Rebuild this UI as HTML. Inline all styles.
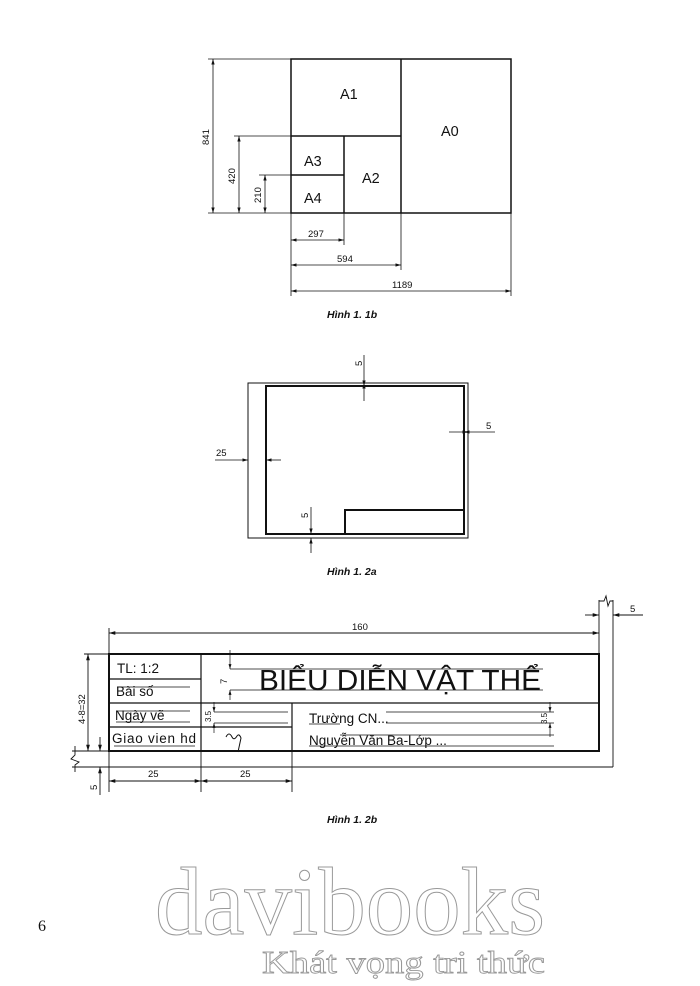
<!DOCTYPE html>
<html><head><meta charset="utf-8"><style>
html,body{margin:0;padding:0;background:#fff;}
svg{display:block;}
text{font-family:"Liberation Sans",sans-serif;fill:#111;}
</style></head><body>
<svg width="700" height="986" viewBox="0 0 700 986" xmlns="http://www.w3.org/2000/svg">
<defs>
<marker id="a" viewBox="0 0 10 10" refX="10" refY="5" markerWidth="7" markerHeight="7" orient="auto-start-reverse"><path d="M0,2 L10,5 L0,8z" fill="#111"/></marker>
</defs>
<g stroke="#111" fill="none">
<g stroke-width="1.5">
<rect x="291" y="59" width="220" height="154"/>
<line x1="401" y1="59" x2="401" y2="213"/>
<line x1="291" y1="136" x2="401" y2="136"/>
<line x1="344" y1="136" x2="344" y2="213"/>
<line x1="291" y1="175" x2="344" y2="175"/>
</g>
<g stroke-width="0.8">
<line x1="208" y1="59" x2="291" y2="59"/>
<line x1="208" y1="213" x2="291" y2="213"/>
<line x1="234" y1="136" x2="291" y2="136"/>
<line x1="259" y1="175" x2="291" y2="175"/>
<line x1="213" y1="59" x2="213" y2="213" marker-start="url(#a)" marker-end="url(#a)"/>
<line x1="239" y1="136" x2="239" y2="213" marker-start="url(#a)" marker-end="url(#a)"/>
<line x1="265" y1="175" x2="265" y2="213" marker-start="url(#a)" marker-end="url(#a)"/>
<line x1="291" y1="213" x2="291" y2="296"/>
<line x1="344" y1="213" x2="344" y2="245"/>
<line x1="401" y1="213" x2="401" y2="270"/>
<line x1="511" y1="213" x2="511" y2="296"/>
<line x1="291" y1="240" x2="344" y2="240" marker-start="url(#a)" marker-end="url(#a)"/>
<line x1="291" y1="265" x2="401" y2="265" marker-start="url(#a)" marker-end="url(#a)"/>
<line x1="291" y1="291" x2="511" y2="291" marker-start="url(#a)" marker-end="url(#a)"/>
</g>
<rect x="248" y="383" width="220" height="155" stroke-width="1"/>
<g stroke-width="2">
<rect x="266" y="386" width="198" height="148"/>
<polyline points="345,534 345,510 464,510"/>
</g>
<g stroke-width="0.8">
<line x1="364" y1="355" x2="364" y2="386" marker-end="url(#a)"/>
<line x1="364" y1="401" x2="364" y2="383" marker-end="url(#a)"/>
<line x1="449" y1="432" x2="468" y2="432" marker-end="url(#a)"/>
<line x1="495" y1="432" x2="464" y2="432" marker-end="url(#a)"/>
<line x1="215" y1="460" x2="248" y2="460" marker-end="url(#a)"/>
<line x1="281" y1="460" x2="266" y2="460" marker-end="url(#a)"/>
<line x1="311" y1="507" x2="311" y2="534" marker-end="url(#a)"/>
<line x1="311" y1="553" x2="311" y2="538" marker-end="url(#a)"/>
</g>
<rect x="109" y="654" width="490" height="97" stroke-width="2"/>
<g stroke-width="1.2">
<line x1="201" y1="654" x2="201" y2="751"/>
<line x1="292" y1="703" x2="292" y2="751"/>
<line x1="109" y1="703" x2="599" y2="703"/>
<line x1="109" y1="679" x2="201" y2="679"/>
<line x1="109" y1="727" x2="292" y2="727"/>
</g>
<g stroke-width="0.7">
<line x1="230" y1="669" x2="543" y2="669"/>
<line x1="230" y1="690" x2="543" y2="690"/>
<line x1="230" y1="650" x2="230" y2="669" marker-end="url(#a)"/>
<line x1="230" y1="700" x2="230" y2="690" marker-end="url(#a)"/>
<line x1="214" y1="712" x2="288" y2="712"/>
<line x1="214" y1="723" x2="288" y2="723"/>
<line x1="214" y1="702" x2="214" y2="712" marker-end="url(#a)"/>
<line x1="214" y1="733" x2="214" y2="723" marker-end="url(#a)"/>
<line x1="386" y1="712" x2="554" y2="712"/>
<line x1="386" y1="723" x2="554" y2="723"/>
<line x1="340" y1="735" x2="554" y2="735"/>
<line x1="340" y1="746" x2="554" y2="746"/>
<line x1="550" y1="702" x2="550" y2="712" marker-end="url(#a)"/>
<line x1="550" y1="737" x2="550" y2="723" marker-end="url(#a)"/>
<line x1="117" y1="687" x2="190" y2="687"/>
<line x1="116" y1="711" x2="190" y2="711"/>
<line x1="116" y1="722" x2="190" y2="722"/>
<line x1="114" y1="746" x2="195" y2="746"/>
<line x1="309" y1="724" x2="340" y2="724"/>
<line x1="309" y1="746" x2="340" y2="746"/>
</g>
<g stroke-width="0.9">
<line x1="599" y1="654" x2="599" y2="600"/>
<line x1="613" y1="600" x2="613" y2="767"/>
<path d="M599,601 L604,601 L606,596 L608,606 L610,601 L613,601"/>
<line x1="72" y1="751" x2="109" y2="751"/>
<line x1="72" y1="767" x2="613" y2="767"/>
<path d="M75,746 L75,755 L71,759 L79,762 L75,765 L75,772"/>
<line x1="109" y1="654" x2="109" y2="628"/>
<line x1="109" y1="633" x2="599" y2="633" marker-start="url(#a)" marker-end="url(#a)"/>
<line x1="585" y1="615" x2="599" y2="615" marker-end="url(#a)"/>
<line x1="643" y1="615" x2="613" y2="615" marker-end="url(#a)"/>
<line x1="84" y1="654" x2="109" y2="654"/>
<line x1="88" y1="654" x2="88" y2="751" marker-start="url(#a)" marker-end="url(#a)"/>
<line x1="100" y1="737" x2="100" y2="751" marker-end="url(#a)"/>
<line x1="100" y1="795" x2="100" y2="767" marker-end="url(#a)"/>
<line x1="109" y1="751" x2="109" y2="792"/>
<line x1="201" y1="751" x2="201" y2="792"/>
<line x1="292" y1="751" x2="292" y2="792"/>
<line x1="109" y1="781" x2="201" y2="781" marker-start="url(#a)" marker-end="url(#a)"/>
<line x1="201" y1="781" x2="292" y2="781" marker-start="url(#a)" marker-end="url(#a)"/>
<path d="M226,737 q3,-6 6,0 q2,4 5,-1 q2,-3 4,2 l-3,14" stroke-width="1"/>
</g>
</g>
<g font-size="14.5">
<text x="340" y="99">A1</text>
<text x="441" y="136">A0</text>
<text x="304" y="166">A3</text>
<text x="362" y="183">A2</text>
<text x="304" y="203">A4</text>
</g>
<g font-size="9.5">
<text transform="translate(209,145) rotate(-90)">841</text>
<text transform="translate(235,184) rotate(-90)">420</text>
<text transform="translate(261,203) rotate(-90)">210</text>
<text x="308" y="237">297</text>
<text x="337" y="262">594</text>
<text x="392" y="288">1189</text>
</g>
<text x="327" y="318" font-size="10.5" font-weight="bold" font-style="italic">Hình 1. 1b</text>
<g font-size="9.5">
<text transform="translate(362,366) rotate(-90)">5</text>
<text x="486" y="429">5</text>
<text x="216" y="456">25</text>
<text transform="translate(308,518) rotate(-90)">5</text>
</g>
<text x="327" y="575" font-size="10.5" font-weight="bold" font-style="italic">Hình 1. 2a</text>
<g font-size="9.5">
<text x="352" y="630">160</text>
<text x="630" y="612">5</text>
<text transform="translate(85,724) rotate(-90)">4-8=32</text>
<text transform="translate(97,790) rotate(-90)">5</text>
<text x="148" y="777">25</text>
<text x="240" y="777">25</text>
<text transform="translate(227,684) rotate(-90)">7</text>
<text transform="translate(211,722) rotate(-90)" font-size="8">3.5</text>
<text transform="translate(547,724) rotate(-90)" font-size="8">3.5</text>
</g>
<g font-size="13.5">
<text x="117" y="673">TL: 1:2</text>
<text x="116" y="696">Bài số</text>
<text x="115" y="720">Ngày vẽ</text>
<text x="112" y="743" textLength="84">Giao vien hd</text>
<text x="309" y="723">Trường CN...</text>
<text x="309" y="745">Nguyễn Văn Ba-Lớp ...</text>
</g>
<text x="259" y="690" font-size="29" textLength="282" lengthAdjust="spacingAndGlyphs">BIỂU DIỄN VẬT THỂ</text>
<text x="327" y="823" font-size="10.5" font-weight="bold" font-style="italic">Hình 1. 2b</text>
<text x="155" y="934" font-size="96" textLength="390" lengthAdjust="spacingAndGlyphs" style="font-family:'Liberation Serif',serif;fill:none;stroke:#999;stroke-width:1">davibooks</text>
<text x="262" y="973" font-size="32" textLength="283" lengthAdjust="spacingAndGlyphs" style="font-family:'Liberation Serif',serif;fill:none;stroke:#999;stroke-width:0.9">Khát vọng tri thức</text>
<text x="38" y="931" font-size="16" style="font-family:'Liberation Serif',serif">6</text>
</svg>
</body></html>
